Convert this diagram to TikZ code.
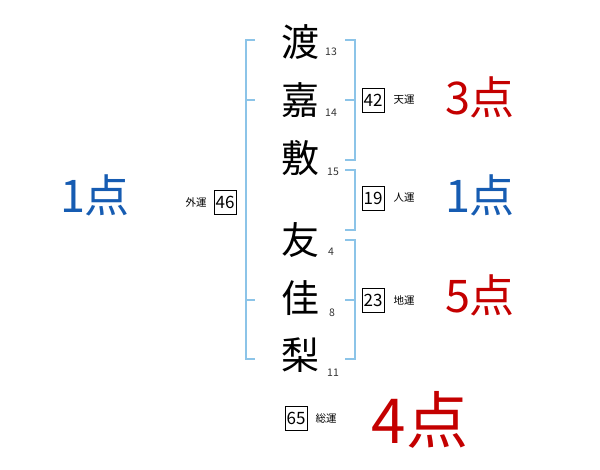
\documentclass[tikz,border=0pt]{standalone}
\usepackage{fontspec}
\setmainfont{Noto Sans CJK JP}
\usepackage{tikz}
\usetikzlibrary{positioning}
\definecolor{brblue}{RGB}{140,196,232}
\definecolor{ptblue}{RGB}{22,92,178}
\definecolor{ptred}{RGB}{196,0,0}
\begin{document}
\begin{tikzpicture}[x=1pt,y=-1pt,
ch/.style={font=\fontsize{38}{38}\selectfont,inner sep=0pt},
st/.style={font=\fontsize{10.5}{10.5}\selectfont,inner sep=0pt,text=black!80},
bx/.style={draw,semithick,minimum width=22pt,minimum height=24pt,inner sep=0pt,font=\fontsize{17}{17}\selectfont},
lb/.style={font=\fontsize{10.5}{10.5}\selectfont,inner sep=0pt},
pt/.style={font=\fontsize{45}{45}\selectfont,inner sep=0pt},
br/.style={brblue,line width=1.1pt}]
\useasboundingbox (0,0) rectangle (600,470);
% name characters
\node[ch] (c1) at (300,42) {渡};
\node[ch] (c2) at (300,100) {嘉};
\node[ch] (c3) at (300,158) {敷};
\node[ch] (c4) at (300,240) {友};
\node[ch] (c5) at (300,298) {佳};
\node[ch] (c6) at (300,355) {梨};
\node[st] (n1) at (331,52) {13};
\node[st] (n2) at (331,113) {14};
\node[st] (n3) at (333,172) {15};
\node[st] (n4) at (331,252) {4};
\node[st] (n5) at (332,313) {8};
\node[st] (n6) at (333,373) {11};
% brackets
\draw[br] (255,40)--(246,40)--(246,359)--(255,359);
\draw[br] (246,100)--(255,100);
\draw[br] (246,300)--(255,300);
\draw[br] (345,40)--(355,40)--(355,160)--(345,160);
\draw[br] (345,100)--(355,100);
\draw[br] (345,170)--(355,170)--(355,230)--(345,230);
\draw[br] (345,240)--(355,240)--(355,359)--(345,359);
\draw[br] (345,300)--(355,300);
% totals
\node[bx] (ten) at (373,100) {42};
\node[lb,right=9pt of ten] (tenl) {天運};
\node[bx] (jin) at (373,198) {19};
\node[lb,right=9pt of jin] (jinl) {人運};
\node[bx] (chi) at (373,300) {23};
\node[lb,right=9pt of chi] (chil) {地運};
\node[bx] (gai) at (225,202) {46};
\node[lb,left=7pt of gai] (gail) {外運};
\node[bx] (sou) at (296,418) {65};
\node[lb,right=8pt of sou] (soul) {総運};
% points
\node[pt,text=ptred] (p1) at (480,97) {3点};
\node[pt,text=ptblue] (p2) at (480,195) {1点};
\node[pt,text=ptred] (p3) at (480,295) {5点};
\node[pt,text=ptblue] (p4) at (95,195) {1点};
\node[pt,text=ptred,font=\fontsize{62}{62}\selectfont] (p5) at (420,420) {4点};
\end{tikzpicture}
\end{document}
